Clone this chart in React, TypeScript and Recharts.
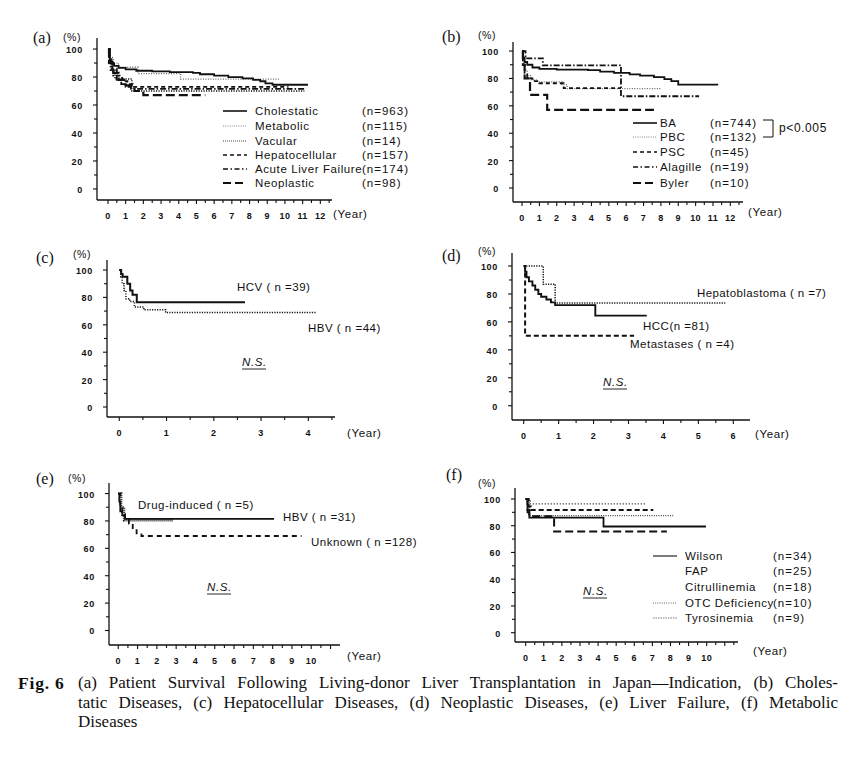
import React from 'react';
import { LineChart, Line, XAxis, YAxis } from 'recharts';

type Pt = [number, number];

// survival curves, [year, %], last pair = end of follow-up
// (a) by indication
const cholestatic: Pt[] = [[0, 100], [0.05, 95], [0.1, 92], [0.2, 89.5], [0.35, 88], [0.6, 86.5], [1, 85.5], [1.6, 84.5], [2.5, 84], [3.5, 83.5], [4.8, 83], [5.2, 82], [6, 81], [6.8, 80], [7.6, 79], [8.2, 78], [8.6, 77], [8.9, 75.5], [9.3, 74.5], [11.3, 74.5]];
const metabolic: Pt[] = [[0, 100], [0.1, 94], [0.3, 90], [0.6, 87], [1.7, 82.5], [4.1, 78.5], [9.7, 78.5]];
const vacular: Pt[] = [[0, 100], [0.1, 92.9], [0.2, 85.7], [0.4, 78.6], [1.35, 70], [11.1, 70]];
const hepatocellular: Pt[] = [[0, 100], [0.1, 91], [0.25, 86], [0.5, 81], [0.8, 77], [1.1, 75], [1.4, 73], [10.2, 73]];
const acuteLiverFailure: Pt[] = [[0, 100], [0.05, 90], [0.15, 85], [0.3, 81], [0.5, 78], [0.75, 75], [1, 73], [1.3, 71.5], [11.2, 71.5]];
const neoplastic: Pt[] = [[0, 100], [0.1, 90], [0.3, 83], [0.6, 78], [1, 74], [1.5, 70], [2, 67], [5.5, 67]];

// (b) cholestatic diseases
const ba: Pt[] = [[0, 100], [0.05, 95], [0.15, 92], [0.3, 90], [0.6, 88], [1, 87], [2, 86.5], [3.8, 86], [4.5, 85], [5.3, 84], [6.2, 83], [6.8, 82], [7.6, 81], [8.2, 79.5], [8.6, 78], [9, 75.5], [11.3, 75.5]];
const pbc: Pt[] = [[0, 100], [0.05, 92], [0.15, 86], [0.3, 82], [0.5, 79], [0.9, 77.5], [2.3, 75.5], [2.6, 72.5], [8.0, 72.5]];
const psc: Pt[] = [[0, 100], [0.05, 90], [0.15, 84], [0.3, 80], [0.6, 78], [1, 76.5], [2.4, 73], [5.7, 73]];
const alagille: Pt[] = [[0, 100], [0.2, 94.7], [1.2, 89.5], [5.7, 67], [10.2, 67]];
const byler: Pt[] = [[0, 100], [0.05, 90], [0.15, 80], [0.46, 68], [1.45, 57], [7.6, 57]];

// (c) hepatocellular diseases
const hcv: Pt[] = [[0, 100], [0.04, 97], [0.07, 95], [0.17, 90], [0.23, 85], [0.28, 82], [0.37, 76.5], [2.66, 76.5]];
const hbvC: Pt[] = [[0, 100], [0.03, 95], [0.06, 90], [0.1, 85], [0.14, 79], [0.22, 77], [0.32, 73], [0.52, 71], [0.98, 69], [4.18, 69]];

// (d) neoplastic diseases
const hepatoblastoma: Pt[] = [[0, 100], [0.56, 87], [0.9, 73.5], [5.77, 73.5]];
const hcc: Pt[] = [[0, 100], [0.04, 96], [0.08, 92], [0.15, 89], [0.25, 86], [0.33, 83], [0.42, 80], [0.5, 78], [0.65, 76], [0.78, 74], [0.9, 72], [2.05, 64.5], [3.52, 64.5]];
const metastases: Pt[] = [[0, 100], [0.04, 50], [3.16, 50]];

// (e) liver failure
const hbvE: Pt[] = [[0, 100], [0.05, 94], [0.1, 87], [0.2, 84], [0.35, 81.5], [8.07, 81.5]];
const drugInduced: Pt[] = [[0, 100], [0.15, 90], [0.3, 80.5], [2.85, 80.5]];
const unknown: Pt[] = [[0, 100], [0.1, 90], [0.2, 85], [0.35, 82], [0.55, 78], [0.75, 74], [0.95, 71], [1.2, 69], [9.5, 69]];

// (f) metabolic diseases
const wilson: Pt[] = [[0, 100], [0.1, 90], [0.2, 86], [4.3, 79.4], [9.96, 79.4]];
const fap: Pt[] = [[0, 100], [0.1, 92], [0.2, 87], [1.57, 75.7], [7.8, 75.7]];
const citrullinemia: Pt[] = [[0, 100], [0.15, 94.4], [0.3, 91.8], [7.05, 91.8]];
const otc: Pt[] = [[0, 100], [0.25, 96.3], [6.6, 96.3]];
const tyrosinemia: Pt[] = [[0, 100], [0.2, 87.5], [8.15, 87.5]];

const yTicks = [0, 10, 20, 30, 40, 50, 60, 70, 80, 90, 100];

const FONT = '"Liberation Sans", Arial, Helvetica, sans-serif';
const SERIF = '"Liberation Serif", "Times New Roman", serif';
const INK = '#111';

interface Sty { dash?: string; width: number; color?: string }
const SOLID: Sty = { width: 1.8 };
const FAINT_DOT: Sty = { dash: '1 1.5', width: 1.3, color: '#666' };
const DOT: Sty = { dash: '1.2 1.3', width: 1.5 };
const DASH: Sty = { dash: '4 3', width: 1.8 };
const DASHDOT: Sty = { dash: '6 2 1.5 2', width: 1.8 };
const LONGDASH: Sty = { dash: '9 4', width: 2.2 };

interface Series { pts: Pt[]; sty: Sty }
interface Geo { ax: number; ay: number; ty: number; rx: number; x: [number, number]; y: [number, number]; xTickMax: number; xLabelMax: number }

const YW = 40;
const XH = 30;

const XTick = (props: any) => {
  const { x, y, payload, labelMax } = props;
  const v = payload.value;
  const major = Math.abs(v - Math.round(v)) < 1e-6;
  return (
    <g>
      <line x1={x} y1={y} x2={x} y2={y + (major ? 4 : 3)} stroke={INK} strokeWidth={1.1} />
      {major && v <= labelMax && (
        <text x={x} y={y + 16} textAnchor="middle" dominantBaseline="central" fontSize={9} fontWeight="bold" letterSpacing={0.4} fill={INK} fontFamily={FONT}>
          {v}
        </text>
      )}
    </g>
  );
};

const YTick = (props: any) => {
  const { x, y, payload } = props;
  const v = payload.value;
  const major = v % 20 === 0;
  return (
    <g>
      <line x1={x - (major ? 4 : 3)} y1={y} x2={x} y2={y} stroke={INK} strokeWidth={1.1} />
      {major && (
        <text x={x - 14} y={y + 1} textAnchor="end" dominantBaseline="central" fontSize={9} fontWeight="bold" letterSpacing={0.7} fill={INK} fontFamily={FONT}>
          {v}
        </text>
      )}
    </g>
  );
};

const Panel: React.FC<{ geo: Geo; series: Series[] }> = ({ geo, series }) => {
  const xt: number[] = [];
  for (let v = 0; v <= geo.xTickMax + 1e-9; v += 0.5) xt.push(Math.round(v * 10) / 10);
  return (
    <div style={{ position: 'absolute', left: geo.ax - YW, top: geo.ty }}>
      <LineChart width={geo.rx - geo.ax + YW} height={geo.ay - geo.ty + XH} margin={{ top: 0, right: 0, bottom: 0, left: 0 }}>
        <XAxis
          type="number"
          dataKey="t"
          domain={geo.x}
          ticks={xt}
          interval={0}
          allowDataOverflow
          height={XH}
          tickSize={0}
          tickMargin={0}
          tickLine={false}
          axisLine={{ stroke: INK, strokeWidth: 1.3 }}
          tick={(p: any) => <XTick {...p} labelMax={geo.xLabelMax} />}
        />
        <YAxis
          type="number"
          domain={geo.y}
          ticks={yTicks}
          interval={0}
          allowDataOverflow
          width={YW}
          tickSize={0}
          tickMargin={0}
          tickLine={false}
          axisLine={{ stroke: INK, strokeWidth: 1.3 }}
          tick={(p: any) => <YTick {...p} />}
        />
        {series.map((s, i) => (
          <Line
            key={i}
            data={s.pts.map(([t, v]) => ({ t, s: v }))}
            dataKey="s"
            type="stepAfter"
            stroke={s.sty.color || INK}
            strokeWidth={s.sty.width}
            strokeDasharray={s.sty.dash}
            dot={false}
            activeDot={false}
            isAnimationActive={false}
          />
        ))}
      </LineChart>
    </div>
  );
};

const geoA: Geo = { ax: 97, ay: 200, ty: 38, rx: 332, x: [-0.62, 12.66], y: [-7.9, 107.9], xTickMax: 12.5, xLabelMax: 12 };
const geoB: Geo = { ax: 513, ay: 202, ty: 42, rx: 743, x: [-0.52, 12.73], y: [-10.2, 106.6], xTickMax: 12.5, xLabelMax: 12 };
const geoC: Geo = { ax: 107, ay: 417, ty: 260, rx: 335, x: [-0.26, 4.565], y: [-7.3, 107.3], xTickMax: 4.5, xLabelMax: 4 };
const geoD: Geo = { ax: 512, ay: 420, ty: 253, rx: 750, x: [-0.335, 6.478], y: [-10.2, 109.3], xTickMax: 6.0, xLabelMax: 6 };
const geoE: Geo = { ax: 109, ay: 645, ty: 483, rx: 340, x: [-0.48, 11.49], y: [-10.6, 107.7], xTickMax: 11, xLabelMax: 10 };
const geoF: Geo = { ax: 515, ay: 642, ty: 488, rx: 738, x: [-0.59, 11.73], y: [-6.96, 108.2], xTickMax: 11.5, xLabelMax: 10 };

const T: React.FC<{ x: number; y: number; size?: number; anchor?: string; italic?: boolean; serif?: boolean; ls?: number; children: React.ReactNode }> = ({ x, y, size = 11.5, anchor = 'start', italic, serif, ls = 0.6, children }) => (
  <text x={x} y={y} fontSize={size} textAnchor={anchor as any} dominantBaseline="central" fontStyle={italic ? 'italic' : 'normal'} fontFamily={serif ? SERIF : FONT} letterSpacing={serif ? 0 : ls} fill={INK}>
    {children}
  </text>
);

const Key: React.FC<{ x1: number; x2: number; y: number; sty?: Sty }> = ({ x1, x2, y, sty }) =>
  sty ? <line x1={x1} x2={x2} y1={y} y2={y} stroke={sty.color || INK} strokeWidth={sty.width} strokeDasharray={sty.dash} /> : null;

const NS: React.FC<{ x: number; y: number }> = ({ x, y }) => (
  <g>
    <T x={x} y={y} italic>N.S.</T>
    <line x1={x} x2={x + 24} y1={y + 7} y2={y + 7} stroke={INK} strokeWidth={0.9} />
  </g>
);

const legendA = [
  { name: 'Cholestatic', n: '(n=963)', sty: { width: 1.6 } as Sty },
  { name: 'Metabolic', n: '(n=115)', sty: { dash: '1 1.2', width: 1, color: '#888' } as Sty },
  { name: 'Vacular', n: '(n=14)', sty: { dash: '1 1', width: 1.2, color: '#444' } as Sty },
  { name: 'Hepatocellular', n: '(n=157)', sty: { dash: '4 3', width: 1.3 } as Sty },
  { name: 'Acute Liver Failure', n: '(n=174)', sty: { dash: '5 2.5 1.5 2.5', width: 1.3 } as Sty },
  { name: 'Neoplastic', n: '(n=98)', sty: { dash: '8 4', width: 1.8 } as Sty },
];
const rowsA = [111, 126, 141, 155, 169, 183];

const legendB = [
  { name: 'BA', n: '(n=744)', sty: { width: 1.6 } as Sty },
  { name: 'PBC', n: '(n=132)', sty: { dash: '1 1.2', width: 1, color: '#888' } as Sty },
  { name: 'PSC', n: '(n=45)', sty: { dash: '4 3', width: 1.3 } as Sty },
  { name: 'Alagille', n: '(n=19)', sty: { dash: '5 2.5 1.5 2.5', width: 1.3 } as Sty },
  { name: 'Byler', n: '(n=10)', sty: { dash: '8 4', width: 1.8 } as Sty },
];
const rowsB = [123, 137, 152, 167, 183];

const F_WILSON: Sty = { width: 1.8 };
const F_FAP: Sty = { dash: '8 4', width: 2 };
const F_CIT: Sty = { dash: '5 3', width: 2 };
const F_OTC: Sty = { dash: '1 2', width: 1.4 };
const F_TYR: Sty = { dash: '1 1.3', width: 1.3, color: '#444' };

const legendF = [
  { name: 'Wilson', n: '(n=34)', sty: { width: 1.1 } as Sty | undefined },
  { name: 'FAP', n: '(n=25)', sty: undefined },
  { name: 'Citrullinemia', n: '(n=18)', sty: undefined },
  { name: 'OTC Deficiency', n: '(n=10)', sty: { dash: '1 1.2', width: 1, color: '#666' } },
  { name: 'Tyrosinemia', n: '(n=9)', sty: { dash: '1.5 1', width: 1, color: '#777' } },
];
const rowsF = [556, 571, 587, 603, 618];

const capLine: React.CSSProperties = { position: 'absolute', left: 78, width: 760, fontFamily: SERIF, fontSize: 17, lineHeight: '20px', color: INK, whiteSpace: 'nowrap' };

export default function App() {
  return (
    <div style={{ position: 'absolute', left: 0, top: 0, width: 856, height: 757, background: '#fff', overflow: 'hidden' }}>
      <Panel
        geo={geoA}
        series={[
          { pts: metabolic, sty: FAINT_DOT },
          { pts: vacular, sty: DOT },
          { pts: hepatocellular, sty: DASH },
          { pts: acuteLiverFailure, sty: DASHDOT },
          { pts: neoplastic, sty: LONGDASH },
          { pts: cholestatic, sty: SOLID },
        ]}
      />
      <Panel
        geo={geoB}
        series={[
          { pts: pbc, sty: FAINT_DOT },
          { pts: psc, sty: DASH },
          { pts: alagille, sty: DASHDOT },
          { pts: byler, sty: LONGDASH },
          { pts: ba, sty: SOLID },
        ]}
      />
      <Panel
        geo={geoC}
        series={[
          { pts: hbvC, sty: { dash: '1.2 1.3', width: 1.5 } },
          { pts: hcv, sty: { width: 2 } },
        ]}
      />
      <Panel
        geo={geoD}
        series={[
          { pts: hepatoblastoma, sty: { dash: '1.2 1.3', width: 1.5 } },
          { pts: metastases, sty: { dash: '5 3', width: 2 } },
          { pts: hcc, sty: { width: 1.9 } },
        ]}
      />
      <Panel
        geo={geoE}
        series={[
          { pts: unknown, sty: { dash: '5 4', width: 1.8 } },
          { pts: hbvE, sty: { width: 1.6 } },
          { pts: drugInduced, sty: { dash: '1 1', width: 2.4 } },
        ]}
      />
      <Panel
        geo={geoF}
        series={[
          { pts: otc, sty: F_OTC },
          { pts: tyrosinemia, sty: F_TYR },
          { pts: citrullinemia, sty: F_CIT },
          { pts: fap, sty: F_FAP },
          { pts: wilson, sty: F_WILSON },
        ]}
      />

      <svg width={856} height={757} style={{ position: 'absolute', left: 0, top: 0, pointerEvents: 'none' }}>
        {/* panel letters */}
        <T x={33} y={37} size={16} serif>(a)</T>
        <T x={442} y={36} size={16} serif>(b)</T>
        <T x={36} y={257} size={16} serif>(c)</T>
        <T x={442} y={255} size={16} serif>(d)</T>
        <T x={36} y={478} size={16} serif>(e)</T>
        <T x={446} y={474} size={16} serif>(f)</T>

        {/* axis units */}
        <T x={63} y={37} size={10.5}>(%)</T>
        <T x={478} y={35} size={10.5}>(%)</T>
        <T x={73} y={254} size={10.5}>(%)</T>
        <T x={478} y={251} size={10.5}>(%)</T>
        <T x={68} y={478} size={10.5}>(%)</T>
        <T x={478} y={483} size={10.5}>(%)</T>
        <T x={333} y={214}>(Year)</T>
        <T x={748} y={212}>(Year)</T>
        <T x={347} y={433}>(Year)</T>
        <T x={755} y={434}>(Year)</T>
        <T x={347} y={656}>(Year)</T>
        <T x={753} y={651}>(Year)</T>

        {/* legend (a) */}
        {legendA.map((r, i) => (
          <g key={'a' + i}>
            <Key x1={223} x2={247} y={rowsA[i]} sty={r.sty} />
            <T x={255} y={rowsA[i]} ls={0.6}>{r.name}</T>
            <T x={362} y={rowsA[i]} ls={1}>{r.n}</T>
          </g>
        ))}

        {/* legend (b) */}
        {legendB.map((r, i) => (
          <g key={'b' + i}>
            <Key x1={633} x2={657} y={rowsB[i]} sty={r.sty} />
            <T x={660} y={rowsB[i]} ls={0.6}>{r.name}</T>
            <T x={710} y={rowsB[i]} ls={1}>{r.n}</T>
          </g>
        ))}
        <path d="M763 120 H773 V137 H763" fill="none" stroke={INK} strokeWidth={1} />
        <T x={779} y={128} size={12} ls={0.6}>p&lt;0.005</T>

        {/* (c) */}
        <T x={237} y={287} ls={0.5}>HCV ( n =39)</T>
        <T x={308} y={328} ls={0.5}>HBV ( n =44)</T>
        <NS x={242} y={362} />

        {/* (d) */}
        <T x={697} y={293} ls={0.4}>Hepatoblastoma ( n =7)</T>
        <T x={643} y={326} ls={0.5}>HCC(n =81)</T>
        <T x={630} y={344} ls={0.5}>Metastases ( n =4)</T>
        <NS x={603} y={382} />

        {/* (e) */}
        <T x={138} y={505} ls={0.5}>Drug-induced ( n =5)</T>
        <T x={283} y={517} ls={0.5}>HBV ( n =31)</T>
        <T x={311} y={542} ls={0.5}>Unknown ( n =128)</T>
        <NS x={207} y={587} />

        {/* legend (f) */}
        {legendF.map((r, i) => (
          <g key={'f' + i}>
            <Key x1={653} x2={677} y={rowsF[i]} sty={r.sty} />
            <T x={685} y={rowsF[i]} ls={0.6}>{r.name}</T>
            <T x={773} y={rowsF[i]} ls={1}>{r.n}</T>
          </g>
        ))}
        <NS x={583} y={591} />
      </svg>

      {/* caption */}
      <div style={{ position: 'absolute', left: 18, top: 673, fontFamily: SERIF, fontWeight: 'bold', fontSize: 17.5, lineHeight: '20px', letterSpacing: 0.8, color: INK }}>
        Fig. 6
      </div>
      <div style={{ ...capLine, top: 673, textAlign: 'justify', textAlignLast: 'justify', whiteSpace: 'normal' }}>
        (a) Patient Survival Following Living-donor Liver Transplantation in Japan—Indication, (b) Choles-
      </div>
      <div style={{ ...capLine, top: 693, textAlign: 'justify', textAlignLast: 'justify', whiteSpace: 'normal' }}>
        tatic Diseases, (c) Hepatocellular Diseases, (d) Neoplastic Diseases, (e) Liver Failure, (f) Metabolic
      </div>
      <div style={{ ...capLine, top: 712 }}>
        Diseases
      </div>
    </div>
  );
}
